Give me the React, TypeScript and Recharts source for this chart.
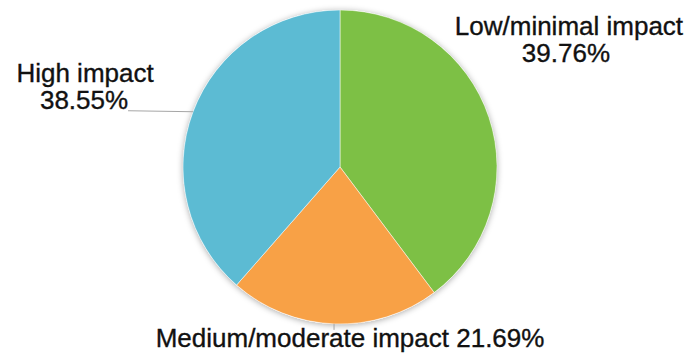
import { Cell, Pie, PieChart } from "recharts";

const categories = ["Low/minimal impact", "Medium/moderate impact", "High impact"];
const shares = [39.76, 21.69, 38.55];
const colors = ["#7dc045", "#f8a146", "#5cbbd3"];

const data = categories.map((name, i) => ({ name, value: shares[i] }));
const backdrop = [{ name: "backdrop", value: 1 }];

const RAD = Math.PI / 180;
const FONT = "'Liberation Sans', Arial, Helvetica, sans-serif";

// label placement relative to the slice's outer edge point
const renderLabel = (props: any) => {
  const { cx, cy, midAngle, outerRadius, index, name, value } = props;
  const ex = cx + outerRadius * Math.cos(-midAngle * RAD);
  const ey = cy + outerRadius * Math.sin(-midAngle * RAD);
  const pct = `${Number(value).toFixed(2)}%`;
  const textProps = {
    fontFamily: FONT,
    fontSize: 26,
    fill: "#111",
    stroke: "#111",
    strokeWidth: 0.35,
    textAnchor: "middle" as const,
  };

  if (index === 0) {
    return (
      <text x={ex + 80} y={ey - 82} {...textProps}>
        <tspan x={ex + 80}>{name}</tspan>
        <tspan x={ex + 77} dy={27}>{pct}</tspan>
      </text>
    );
  }
  if (index === 1) {
    return (
      <g>
        <line x1={ex} y1={ey} x2={ex} y2={ey + 6} stroke="#a6a6a6" strokeWidth={1} />
        <text x={ex + 16} y={ey + 23} {...textProps}>{`${name} ${pct}`}</text>
      </g>
    );
  }
  return (
    <g>
      <line x1={ex} y1={ey} x2={ex - 65} y2={ey - 1} stroke="#a6a6a6" strokeWidth={1} />
      <text x={ex - 108} y={ey - 30} {...textProps}>
        <tspan x={ex - 108}>{name}</tspan>
        <tspan x={ex - 109} dy={27}>{pct}</tspan>
      </text>
    </g>
  );
};

export default function App() {
  return (
    <div style={{ position: "absolute", left: 0, top: 0, width: 692, height: 353, background: "#fff" }}>
      <PieChart width={692} height={353} margin={{ top: 0, right: 0, bottom: 0, left: 0 }}>
        <defs>
          <filter id="pieShadow" x="-20%" y="-20%" width="140%" height="140%">
            <feDropShadow dx="0" dy="1" stdDeviation="3" floodColor="#000" floodOpacity="0.35" />
          </filter>
        </defs>
        <Pie
          data={backdrop}
          dataKey="value"
          cx={340}
          cy={167}
          outerRadius={157}
          startAngle={90}
          endAngle={-270}
          stroke="none"
          label={false}
          labelLine={false}
          isAnimationActive={false}
        >
          <Cell fill="#fff" filter="url(#pieShadow)" />
        </Pie>
        <Pie
          data={data}
          dataKey="value"
          nameKey="name"
          cx={340}
          cy={167}
          outerRadius={157}
          startAngle={90}
          endAngle={-270}
          stroke="#ffffff"
          strokeWidth={0.5}
          label={renderLabel}
          labelLine={false}
          isAnimationActive={false}
        >
          {data.map((d, i) => (
            <Cell key={d.name} fill={colors[i]} />
          ))}
        </Pie>
      </PieChart>
    </div>
  );
}
